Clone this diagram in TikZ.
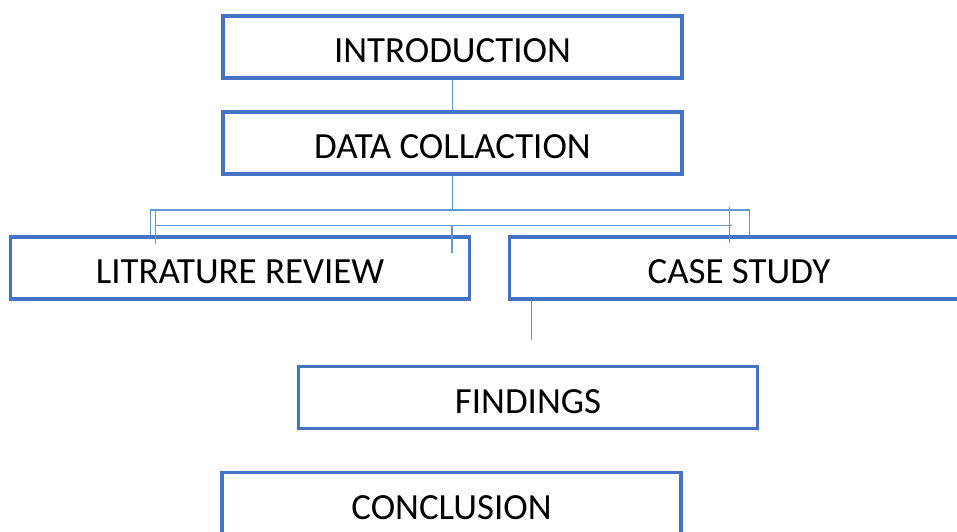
\documentclass[tikz,border=0pt]{standalone}
\usepackage{fontspec}
\setmainfont{Carlito}
\usepackage{xcolor}
\usepackage{tikz}

\begin{document}
\begin{tikzpicture}[x=0.02cm, y=-0.02cm]

% ------------------------
% Colors
% ------------------------
\definecolor{colBox}{RGB}{68,114,196}
\definecolor{colLink}{RGB}{91,155,213}

% Size of each box
\def\bw{9.18cm}
\def\bh{1.24cm}

\tikzset{
  flowbox/.style={draw=colBox, line width=1.9pt, minimum width=\bw, minimum height=\bh,
    inner sep=0pt, font=\fontsize{21}{25}\selectfont, text height=0.62cm, text depth=0pt},
  link/.style={draw=colLink, line width=0.8pt}
}

\useasboundingbox (0,0) rectangle (957,531);

% ------------------------
% Boxes
% ------------------------
\node[flowbox] (intro) at (452.5,47) {INTRODUCTION};
\node[flowbox] (data) at (452.5,143) {DATA COLLACTION};
\node[flowbox] (lit) at (240,268) {LITRATURE REVIEW};
\node[flowbox] (case) at (739,268) {CASE STUDY};
\node[flowbox] (find) at (528,397.5) {FINDINGS};
\node[flowbox] (concl) at (451.5,503.5) {CONCLUSION};

% ------------------------
% Links
% ------------------------
\draw[link] (intro.south) -- (data.north);

% outer bar
\coordinate (barL) at (150.7,210);
\coordinate (barR) at (749.3,210);
\draw[link] (data.south) -- (data.south |- barL);
\draw[link] (lit.north -| barL) -- (barL) -- (barR) -- (case.north -| barR);

% inner bar
\coordinate (inL) at (155.7,225.5);
\coordinate (inR) at (732,225.5);
\coordinate (inM) at (452,225.5);
\draw[link] (inL) -- (inR);
\draw[link] (inL) ++(0,-16.5) -- ++(0,35);
\draw[link] (inR) ++(-2.7,-18.5) -- ++(0,36);
\draw[link] (inM) -- ++(0,27.2);

% case study tap
\coordinate (caseTap) at (531.7,340);
\draw[link] (case.south -| caseTap) -- (caseTap);

\end{tikzpicture}
\end{document}
